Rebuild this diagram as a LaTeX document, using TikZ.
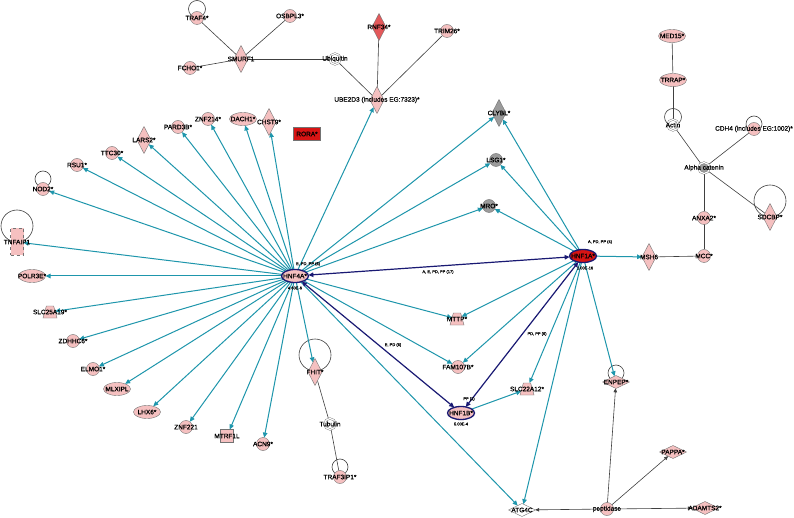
\documentclass[tikz,border=0pt]{standalone}
\usepackage{fontspec}
\setmainfont{Liberation Sans}
\newfontfamily\lblfont[FakeBold=0.5]{Liberation Sans}
\usetikzlibrary{shapes.geometric,arrows.meta}
\pgfdeclarelayer{bg}
\pgfsetlayers{bg,main}
\definecolor{tealc}{RGB}{30,150,172}
\definecolor{navyc}{RGB}{25,25,115}
\definecolor{pinkf}{RGB}{245,192,192}
\definecolor{redf}{RGB}{215,20,20}
\definecolor{rnfc}{RGB}{228,88,90}
\definecolor{grayf}{RGB}{155,155,155}
\tikzset{
 base/.style={draw=black!55, line width=0.4pt, fill=pinkf, inner sep=0pt, outer sep=0pt},
 circ/.style={base, circle, minimum size=13pt},
 ell/.style={base, ellipse, minimum width=27pt, minimum height=13pt},
 dia/.style={base, diamond, minimum width=14pt, minimum height=27pt},
 fdia/.style={base, diamond, minimum width=27pt, minimum height=13pt},
 sq/.style={base, rectangle, minimum width=13pt, minimum height=13pt},
 trap/.style={base, trapezium, trapezium left angle=65, trapezium right angle=65, trapezium stretches=true, inner sep=1pt, minimum width=14pt, minimum height=12pt},
 dcirc/.style={circle, draw=black!55, line width=0.4pt, double=white, double distance=1.2pt, fill=white, minimum size=11pt, inner sep=0pt, outer sep=0pt},
 lbl/.style={font=\lblfont\fontsize{6.5}{7}\selectfont, text=black, inner sep=0pt},
 tinylbl/.style={font=\lblfont\fontsize{4}{4.5}\selectfont, text=black, inner sep=0pt},
 ta/.style={draw=tealc, line width=1pt, -{Triangle[length=5pt,width=4.5pt]}},
 na/.style={draw=navyc, line width=1.2pt, {Triangle[length=5pt,width=4.5pt]}-{Triangle[length=5pt,width=4.5pt]}},
 nloop/.style={draw=navyc, line width=1pt, -{Triangle[length=4pt,width=4pt]}},
 bl/.style={draw=black!75, line width=0.6pt},
 ba/.style={bl, -{Triangle[length=4pt,width=3.5pt]}},
 lp/.style={draw=black!75, line width=0.6pt},
}
\newcommand\mynode[5]{\node[#1,label={[lbl]center:#5}] (#2) at (#3,#4) {};}
\begin{document}
\begin{tikzpicture}[x=1pt,y=-1pt]
\useasboundingbox (0,0) rectangle (794,518);
% nodes
\mynode{circ}{TRAF4}{197}{18}{TRAF4*}
\mynode{circ}{OSBPL3}{290}{16}{OSBPL3*}
\mynode{dia}{SMURF1}{241}{59}{SMURF1}
\mynode{circ}{FCHO1}{190}{68}{FCHO1*}
\mynode{dcirc}{Ubiq}{335}{59}{Ubiquitin}
\mynode{dia,fill=rnfc}{RNF34}{379}{27}{RNF34*}
\mynode{circ}{TRIM26}{447}{31}{TRIM26*}
\mynode{dia}{UBE2D3}{377}{100}{UBE2D3 (includes EG:7323)*}
\mynode{circ}{ZNF214}{208}{119}{ZNF214*}
\mynode{ell}{DACH1}{243}{119}{DACH1*}
\mynode{dia}{CHST9}{269}{122}{CHST9*}
\mynode{sq,fill=redf,minimum width=27pt}{RORA}{307}{134}{RORA*}
\mynode{circ}{PARD3B}{178}{127}{PARD3B*}
\mynode{dia}{LARS2}{144}{140}{LARS2*}
\mynode{circ}{TTC30}{112}{153}{TTC30*}
\mynode{circ}{RSU1}{77}{165}{RSU1*}
\mynode{circ}{NOD2}{43}{189}{NOD2*}
\mynode{sq,dashed,minimum height=27pt}{TNFAIP1}{17}{242}{TNFAIP1}
\mynode{ell}{POLR3E}{32}{276}{POLR3E*}
\mynode{trap}{SLC25A19}{50}{312}{SLC25A19*}
\mynode{circ}{ZDHHC6}{73}{341}{ZDHHC6*}
\mynode{circ}{ELMO1}{93}{369}{ELMO1*}
\mynode{ell}{MLXIPL}{117}{389}{MLXIPL}
\mynode{ell}{LHX6}{147}{412}{LHX6*}
\mynode{circ}{ZNF221}{186}{427}{ZNF221}
\mynode{sq}{MTRF1L}{227}{436}{MTRF1L}
\mynode{circ}{ACN9}{263}{444}{ACN9*}
\mynode{dia}{FHIT}{315}{372}{FHIT*}
\mynode{dcirc}{Tubulin}{330}{424}{Tubulin}
\mynode{circ}{TRAF3IP1}{340}{477}{TRAF3IP1*}
\mynode{ell,draw=navyc,line width=1.3pt}{HNF4A}{295}{276}{HNF4A*}
\mynode{ell,fill=redf,draw=navyc,line width=1.3pt}{HNF1A}{583}{256}{HNF1A*}
\mynode{ell,draw=navyc,line width=1.3pt}{HNF1B}{461}{413}{HNF1B*}
\mynode{trap}{MTTP}{457}{319}{MTTP*}
\mynode{circ}{FAM107B}{458}{367}{FAM107B*}
\mynode{trap}{SLC22A12}{527}{389}{SLC22A12*}
\mynode{dia,fill=grayf}{CLYBL}{499}{113}{CLYBL*}
\mynode{circ,fill=grayf}{LSG1}{496}{160}{LSG1*}
\mynode{circ,fill=grayf}{MRO}{489}{206}{MRO*}
\mynode{dia}{MSH6}{649}{257}{MSH6}
\mynode{ell}{MED15}{672}{36}{MED15*}
\mynode{ell}{TRRAP}{673}{80}{TRRAP*}
\mynode{dcirc}{Actin}{673}{125}{Actin}
\mynode{circ}{CDH4}{754}{129}{CDH4 (includes EG:1002)*}
\mynode{dcirc,fill=grayf}{Acat}{704}{168}{Alpha catenin}
\mynode{dia}{SDCBP}{770}{217}{SDCBP*}
\mynode{circ}{ANXA2}{704}{218}{ANXA2*}
\mynode{circ}{MCC}{704}{256}{MCC*}
\mynode{fdia}{ENPEP}{616}{382}{ENPEP*}
\mynode{fdia}{PAPPA}{673}{452}{PAPPA*}
\mynode{fdia,fill=white}{ATG4C}{522}{510}{ATG4C}
\mynode{circ}{pept}{607}{509}{peptidase}
\mynode{fdia}{ADAMTS2}{705}{508}{ADAMTS2*}
% edge labels
\node[tinylbl] (lab1) at (308,264) {E, PD, PP (6)};
\node[tinylbl] (p1) at (295,288) {4.60E-6};
\node[tinylbl] (lab2) at (600,242) {A, PD, PP (4)};
\node[tinylbl] (p2) at (585,268) {1.00E-16};
\node[tinylbl] (lab3) at (438,272) {A, E, PD, PP (17)};
\node[tinylbl] (lab4) at (393,345) {E, PD (6)};
\node[tinylbl] (lab5) at (537,334) {PD, PP (6)};
\node[tinylbl] (lab6) at (469,399) {PP (1)};
\node[tinylbl] (p3) at (461,424) {5.00E-4};
\begin{pgfonlayer}{bg}
\fill[white] (0,0) rectangle (794,518);
% self loops
\draw[lp] ([yshift=9pt]TRAF4.center) circle[radius=8.5pt];
\draw[lp] ([yshift=10pt]NOD2.center) circle[radius=8pt];
\draw[lp] ([yshift=16pt]TNFAIP1.center) circle[radius=16pt];
\draw[lp] ([yshift=17pt]FHIT.center) circle[radius=16pt];
\draw[lp] ([yshift=10pt]TRAF3IP1.center) circle[radius=8pt];
\draw[lp] ([yshift=8pt]Actin.center) circle[radius=8.5pt];
\draw[lp] ([yshift=5pt]CDH4.center) circle[radius=8pt];
\draw[lp] ([yshift=16pt]SDCBP.center) circle[radius=16pt];
\draw[lp] ([yshift=9pt]ENPEP.center) circle[radius=8pt];
% black lines
\foreach \a/\b in {SMURF1/TRAF4,SMURF1/OSBPL3,SMURF1/FCHO1,SMURF1/Ubiq,Ubiq/UBE2D3,RNF34/UBE2D3,TRIM26/UBE2D3,MED15/TRRAP,TRRAP/Actin,Actin/Acat,CDH4/Acat,Acat/SDCBP,Acat/ANXA2,ANXA2/MCC,MCC/MSH6,FHIT/Tubulin,Tubulin/TRAF3IP1}
  \draw[bl] (\a) -- (\b);
\foreach \b in {ENPEP,PAPPA,ATG4C,ADAMTS2}
  \draw[ba] (pept) -- (\b);
% teal arrows
\foreach \t in {ZNF214,DACH1,CHST9,PARD3B,LARS2,TTC30,RSU1,NOD2,TNFAIP1,POLR3E,SLC25A19,ZDHHC6,ELMO1,MLXIPL,LHX6,ZNF221,MTRF1L,ACN9,FHIT,FAM107B,MTTP,ATG4C,UBE2D3,CLYBL,LSG1,MRO}
  \draw[ta] (HNF4A) -- (\t);
\foreach \t in {CLYBL,LSG1,MRO,MSH6,MTTP,FAM107B,SLC22A12,ATG4C,ENPEP}
  \draw[ta] (HNF1A) -- (\t);
\draw[ta] (HNF1B) -- (SLC22A12);
% navy
\draw[na] (HNF4A) -- (HNF1A);
\draw[na] (HNF4A) -- (HNF1B);
\draw[na] (HNF1A) -- (HNF1B);
\draw[nloop] (HNF4A.75) .. controls +(70:13) and +(110:13) .. (HNF4A.110);
\draw[nloop] (HNF1A.75) .. controls +(70:13) and +(110:13) .. (HNF1A.115);
\draw[nloop] (HNF1B.65) .. controls +(70:14) and +(110:14) .. (HNF1B.115);
\end{pgfonlayer}
\end{tikzpicture}
\end{document}
